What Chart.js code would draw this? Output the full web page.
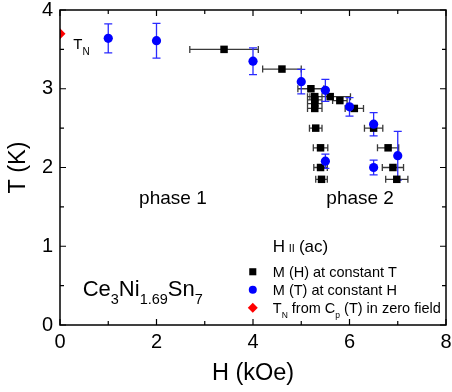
<!DOCTYPE html>
<html>
<head>
<meta charset="utf-8">
<script src="https://cdn.jsdelivr.net/npm/chart.js@4/dist/chart.umd.min.js"></script>
<style>
  html, body { margin: 0; padding: 0; background: #fff; }
  #wrap { width: 452px; height: 392px; }
</style>
</head>
<body>
<div id="wrap"><canvas id="phaseDiagram"></canvas></div>
<script>
// M(H) at constant T : field (kOe), temperature (K), field error (kOe)
const mhField = [3.4, 4.6, 5.2, 5.28, 5.28, 5.28, 5.28, 5.6, 5.8, 6.1, 5.3, 6.5, 5.4, 6.8, 5.4, 6.9, 5.42, 6.98];
const mhTemp  = [3.5, 3.25, 3.0, 2.9, 2.86, 2.81, 2.75, 2.9, 2.85, 2.75, 2.5, 2.5, 2.25, 2.25, 2.0, 2.0, 1.85, 1.85];
const mhErr   = [0.71, 0.4, 0.27, 0.15, 0.15, 0.15, 0.15, 0.42, 0.15, 0.19, 0.13, 0.19, 0.15, 0.22, 0.14, 0.22, 0.12, 0.23];

// M(T) at constant H : field (kOe), temperature (K), temperature error (K)
const mtField = [1, 2, 4, 5, 5.5, 6, 6.5, 7, 5.5, 6.5];
const mtTemp  = [3.64, 3.61, 3.35, 3.09, 2.98, 2.77, 2.55, 2.15, 2.08, 2.0];
const mtErr   = [0.185, 0.22, 0.17, 0.155, 0.14, 0.117, 0.148, 0.31, 0.09, 0.093];

// T_N from specific heat in zero field
const cpField = [0];
const cpTemp  = [3.7];

const xTicks = [0, 2, 4, 6, 8];
const yTicks = [0, 1, 2, 3, 4];

const FONT = '"Liberation Sans", Arial, sans-serif';

const points = (xs, ys, errs, key) => xs.map((v, i) => ({ x: v, y: ys[i], [key]: errs ? errs[i] : 0 }));

// text with subscripts: parts = [[text, isSub], ...]
function richText(ctx, x, y, parts, size, subSize, subDrop) {
    parts.forEach(([t, sub]) => {
        ctx.font = `${sub ? subSize : size}px ${FONT}`;
        ctx.fillText(t, x, sub ? y + subDrop : y);
        x += ctx.measureText(t).width;
    });
}

// error bars under the markers
const errorBars = {
    id: 'errorBars',
    beforeDatasetsDraw(chart) {
        const { ctx, scales: { x, y } } = chart;
        ctx.save();
        chart.data.datasets.forEach((ds) => {
            if (!ds.errColor) return;
            ctx.strokeStyle = ds.errColor;
            ctx.lineWidth = 1.3;
            ctx.beginPath();
            ds.data.forEach((p) => {
                const px = x.getPixelForValue(p.x), py = y.getPixelForValue(p.y);
                if (p.xErr) {
                    const l = x.getPixelForValue(p.x - p.xErr), r = x.getPixelForValue(p.x + p.xErr);
                    ctx.moveTo(l, py); ctx.lineTo(r, py);
                    ctx.moveTo(l, py - 3.5); ctx.lineTo(l, py + 3.5);
                    ctx.moveTo(r, py - 3.5); ctx.lineTo(r, py + 3.5);
                }
                if (p.yErr) {
                    const t = y.getPixelForValue(p.y + p.yErr), b = y.getPixelForValue(p.y - p.yErr);
                    ctx.moveTo(px, t); ctx.lineTo(px, b);
                    ctx.moveTo(px - 4, t); ctx.lineTo(px + 4, t);
                    ctx.moveTo(px - 4, b); ctx.lineTo(px + 4, b);
                }
            });
            ctx.stroke();
        });
        ctx.restore();
    }
};

// closed frame with inward ticks on all four sides
const frameTicks = {
    id: 'frameTicks',
    afterDatasetsDraw(chart) {
        const { ctx, chartArea: a, scales: { x, y } } = chart;
        ctx.save();
        ctx.strokeStyle = '#000';
        ctx.lineWidth = 1.2;
        ctx.beginPath();
        for (let v = 0; v <= 8; v += 1) {
            const px = x.getPixelForValue(v), len = v % 2 ? 4 : 6;
            ctx.moveTo(px, a.bottom); ctx.lineTo(px, a.bottom - len);
            ctx.moveTo(px, a.top); ctx.lineTo(px, a.top + len);
        }
        for (let v = 0; v <= 4; v += 0.5) {
            const py = y.getPixelForValue(v), len = v % 1 ? 4 : 6;
            ctx.moveTo(a.left, py); ctx.lineTo(a.left + len, py);
            ctx.moveTo(a.right, py); ctx.lineTo(a.right - len, py);
        }
        ctx.stroke();
        ctx.lineWidth = 1.5;
        ctx.strokeRect(a.left, a.top, a.right - a.left, a.bottom - a.top);
        ctx.restore();
    }
};

// labels, formula and the legend box
const annotations = {
    id: 'annotations',
    afterDraw(chart) {
        const { ctx, scales: { x, y } } = chart;
        const H = (v) => x.getPixelForValue(v), T = (v) => y.getPixelForValue(v);
        ctx.save();
        ctx.fillStyle = '#000';
        ctx.textBaseline = 'alphabetic';
        ctx.textAlign = 'left';

        richText(ctx, H(0.276), T(3.5), [['T', false], ['N', true]], 15, 10, 6);

        ctx.textAlign = 'center';
        ctx.font = `19px ${FONT}`;
        ctx.fillText('phase 1', H(2.34), T(1.54));
        ctx.fillText('phase 2', H(6.22), T(1.54));
        ctx.textAlign = 'left';

        richText(ctx, H(0.47), T(0.37),
            [['Ce', false], ['3', true], ['Ni', false], ['1.69', true], ['Sn', false], ['7', true]], 22, 14.5, 8);

        // legend
        const lx = H(4.41), hy = T(0.93);
        ctx.font = `17px ${FONT}`;
        ctx.fillText('H', lx, hy);
        let cx = lx + ctx.measureText('H ').width - 1;
        ctx.font = `11px ${FONT}`;
        ctx.fillText('II', cx, hy);
        cx += ctx.measureText('II').width + 4;
        ctx.font = `17px ${FONT}`;
        ctx.fillText('(ac)', cx, hy);

        const rows = [
            { ds: 0, y: hy + 25, parts: [['M (H) at constant T', false]] },
            { ds: 1, y: hy + 43, parts: [['M (T) at constant H', false]] },
            { ds: 2, y: hy + 61, parts: [['T', false], ['N', true], [' from C', false], ['p', true], [' (T) in zero field', false]] }
        ];
        rows.forEach((r) => {
            const ds = chart.data.datasets[r.ds];
            ctx.fillStyle = ds.backgroundColor;
            ctx.strokeStyle = ds.backgroundColor;
            Chart.helpers.drawPoint(ctx, { pointStyle: ds.pointStyle, radius: ds.legendRadius, rotation: 0, borderWidth: 0 }, lx - 20, r.y - 5);
            ctx.fillStyle = '#000';
            richText(ctx, lx, r.y, r.parts, 14.5, 8.5, 5);
        });
        ctx.restore();
    }
};

new Chart(document.getElementById('phaseDiagram'), {
    type: 'scatter',
    data: {
        datasets: [
            {
                label: 'M (H) at constant T',
                data: points(mhField, mhTemp, mhErr, 'xErr'),
                pointStyle: 'rect',
                pointRadius: 5.3,
                legendRadius: 5,
                backgroundColor: '#000',
                borderColor: '#000',
                borderWidth: 0,
                errColor: '#3a3a3a',
                order: 2
            },
            {
                label: 'M (T) at constant H',
                data: points(mtField, mtTemp, mtErr, 'yErr'),
                pointStyle: 'circle',
                pointRadius: 4.6,
                legendRadius: 4,
                backgroundColor: '#0000ff',
                borderColor: '#0000ff',
                borderWidth: 0,
                errColor: '#2a2aff',
                order: 1
            },
            {
                label: 'T_N from Cp(T) in zero field',
                data: points(cpField, cpTemp, null, 'none'),
                pointStyle: 'rectRot',
                pointRadius: 5.5,
                legendRadius: 5,
                backgroundColor: '#ff0000',
                borderColor: '#ff0000',
                borderWidth: 0,
                clip: 0,
                order: 0
            }
        ]
    },
    options: {
        responsive: true,
        maintainAspectRatio: false,
        animation: false,
        layout: { padding: { top: 10, right: 6, left: 0, bottom: 0 } },
        plugins: {
            legend: { display: false },
            tooltip: { enabled: false }
        },
        scales: {
            x: {
                type: 'linear', min: 0, max: 8,
                afterBuildTicks: (s) => { s.ticks = xTicks.map(v => ({ value: v })); },
                afterFit: (s) => { s.height = 67; s.paddingLeft = 0; s.paddingRight = 0; },
                ticks: { color: '#000', font: { family: FONT, size: 20 }, padding: 5 },
                grid: { display: false, drawTicks: false },
                border: { display: false },
                title: { display: true, text: 'H (kOe)', color: '#000', font: { family: FONT, size: 23.5 }, padding: { top: 0, bottom: 4 } }
            },
            y: {
                type: 'linear', min: 0, max: 4,
                afterBuildTicks: (s) => { s.ticks = yTicks.map(v => ({ value: v })); },
                afterFit: (s) => { s.width = 60; s.paddingTop = 0; s.paddingBottom = 0; },
                ticks: { color: '#000', font: { family: FONT, size: 20 }, padding: 7 },
                grid: { display: false, drawTicks: false },
                border: { display: false },
                title: { display: true, text: 'T (K)', color: '#000', font: { family: FONT, size: 23.5 }, padding: { top: 4, bottom: 0 } }
            }
        }
    },
    plugins: [errorBars, frameTicks, annotations]
});
</script>
</body>
</html>
